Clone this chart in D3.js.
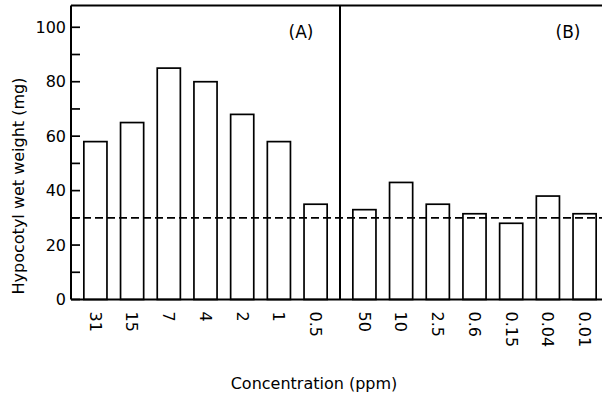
<!DOCTYPE html>
<html lang="en">
<head>
<meta charset="UTF-8">
<title>Hypocotyl wet weight vs concentration</title>
<script src="https://d3js.org/d3.v7.min.js"></script>
<style>
  body { margin: 0; background: #fff; }
  text { font-family: "DejaVu Sans", sans-serif; fill: #000; }
</style>
</head>
<body>
<div id="chart"></div>
<script>
  // data
  const concA = ["31", "15", "7", "4", "2", "1", "0.5"];
  const weightA = [58, 65, 85, 80, 68, 58, 35];
  const concB = ["50", "10", "2.5", "0.6", "0.15", "0.04", "0.01"];
  const weightB = [33, 43, 35, 31.5, 28, 38, 31.5];
  const yTicks = [0, 20, 40, 60, 80, 100];
  const yMinorTicks = [10, 30, 50, 70, 90];
  const controlLevel = 30;

  const W = 602, H = 398;
  const plotLeft = 71, plotTop = 5.5, plotBottom = 299.5, split = 340, plotRight = 609;

  const svg = d3.select("#chart").append("svg")
      .attr("width", W)
      .attr("height", H);

  const y = d3.scaleLinear().domain([0, 108]).range([plotBottom, plotTop]);

  // two panels side by side, each with its own band scale
  const xA = d3.scaleBand().domain(concA).range([plotLeft, split])
      .paddingInner(0.37).paddingOuter(0.35);
  const xB = d3.scaleBand().domain(concB).range([split, plotRight])
      .paddingInner(0.37).paddingOuter(0.35);

  const panels = [
    { x: xA, cats: concA, vals: weightA, tag: "(A)", tagX: 301 },
    { x: xB, cats: concB, vals: weightB, tag: "(B)", tagX: 568 }
  ];

  panels.forEach(p => {
    const rows = p.cats.map((c, i) => ({ c: c, v: p.vals[i] }));

    svg.append("g").selectAll("rect")
      .data(rows)
      .join("rect")
        .attr("x", d => p.x(d.c))
        .attr("y", d => y(d.v))
        .attr("width", p.x.bandwidth())
        .attr("height", d => y(0) - y(d.v))
        .attr("fill", "none")
        .attr("stroke", "#000")
        .attr("stroke-width", 1.7);

    // rotated concentration labels
    svg.append("g").selectAll("text")
      .data(rows)
      .join("text")
        .attr("transform", d => `translate(${p.x(d.c) + p.x.bandwidth() / 2},${plotBottom + 12}) rotate(90)`)
        .attr("dy", "0.35em")
        .attr("text-anchor", "start")
        .style("font-size", "16px")
        .text(d => d.c);

    svg.append("text")
      .attr("x", p.tagX)
      .attr("y", 38)
      .attr("text-anchor", "middle")
      .style("font-size", "17px")
      .text(p.tag);
  });

  // control level (dashed)
  svg.append("line")
    .attr("x1", plotLeft).attr("x2", W)
    .attr("y1", y(controlLevel)).attr("y2", y(controlLevel))
    .attr("stroke", "#000")
    .attr("stroke-width", 1.8)
    .attr("stroke-dasharray", "8,4");

  // y axis with inward ticks
  const yAxis = svg.append("g")
    .attr("transform", `translate(${plotLeft},0)`)
    .call(d3.axisLeft(y).tickValues(yTicks).tickSize(0).tickPadding(5));
  yAxis.select(".domain").remove();
  yAxis.selectAll("text")
    .style("font-family", "DejaVu Sans, sans-serif")
    .style("font-size", "16px");

  svg.append("g").selectAll("line")
    .data(yTicks.concat(yMinorTicks))
    .join("line")
      .attr("x1", plotLeft).attr("x2", plotLeft + 9)
      .attr("y1", d => y(d)).attr("y2", d => y(d))
      .attr("stroke", "#000")
      .attr("stroke-width", 1.7);

  // frame: left axis, baseline, top edge, panel divider
  const frame = svg.append("g")
    .attr("stroke", "#000")
    .attr("stroke-width", 2)
    .attr("fill", "none");
  frame.append("line").attr("x1", plotLeft).attr("x2", plotLeft).attr("y1", plotTop).attr("y2", plotBottom);
  frame.append("line").attr("x1", plotLeft).attr("x2", W).attr("y1", plotBottom).attr("y2", plotBottom);
  frame.append("line").attr("x1", plotLeft).attr("x2", W).attr("y1", plotTop).attr("y2", plotTop);
  frame.append("line").attr("x1", split).attr("x2", split).attr("y1", plotTop).attr("y2", plotBottom);

  // axis titles
  svg.append("text")
    .attr("transform", `translate(24,186) rotate(-90)`)
    .attr("text-anchor", "middle")
    .style("font-size", "16px")
    .text("Hypocotyl wet weight (mg)");

  svg.append("text")
    .attr("x", 314)
    .attr("y", 389)
    .attr("text-anchor", "middle")
    .style("font-size", "16px")
    .text("Concentration (ppm)");
</script>
</body>
</html>
